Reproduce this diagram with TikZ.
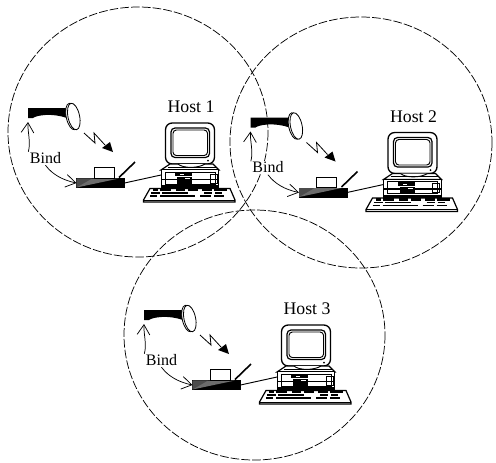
\documentclass[tikz,border=0pt]{standalone}
\usepackage{fontspec}
\setmainfont{Liberation Serif}
\usetikzlibrary{arrows.meta}
\tikzset{
  x=0.75pt,y=-0.75pt,
  zone/.style={line width=0.55pt,dash pattern=on 6.5pt off 1.6pt},
  hostlabel/.style={font=\fontsize{13.3pt}{15pt}\selectfont,inner sep=0pt},
  bindlabel/.style={font=\fontsize{12pt}{14pt}\selectfont,inner sep=1pt,fill=white},
  bindarrow/.style={line width=0.55pt,-{Straight Barb[length=7.5pt,width=9.5pt,line width=0.55pt]}},
  faxbody/.style={fill=black,draw=black,line width=0.5pt,minimum width=36pt,minimum height=7pt,inner sep=0pt,outer sep=0pt},
  casebody/.style={fill=white,draw=black,line width=0.9pt,minimum width=43pt,minimum height=14pt,inner sep=0pt,outer sep=0pt},
  outline/.style={draw=black,fill=white,line width=0.8pt},
  unit/.pic={
    % handset
    \fill (28,108) -- (67,108) -- (67,118) .. controls (60,115.5) and (52,114.5) .. (45,115)
       .. controls (39,115.5) and (35,116.5) .. (33,118) -- (28,118) -- cycle;
    \coordinate (-hs) at (28,122);
    % dish
    \draw[outline,line width=0.6pt] (72,116.5) ellipse [x radius=5.8,y radius=13.5,rotate=12];
    \draw[outline,line width=0.6pt] (73.8,116.5) ellipse [x radius=5.8,y radius=13.5,rotate=12];
    % signal
    \draw[line width=0.6pt] (84,133) -- (95,143) -- (94,133) -- (105,145);
    \fill (113,152) -- (102,148) -- (110,142) -- cycle;
    % fax
    \node[faxbody] (-fax) at (100.5,183) {};
    \fill[gray!85!black] (76.5,178.5) -- (119,178.5) -- (76.5,187.5) -- cycle;
    \fill[gray!60!black] (76.5,178.5) -- (92,178.5) -- (76.5,187.5) -- cycle;
    \draw[black,fill=white,line width=0.6pt] (94,167.5) rectangle (114,178);
    \draw[line width=1.2pt] (119,177.5) -- (135,162);
    % computer: monitor
    \draw[outline,rounded corners=5pt,line width=1pt] (165.5,123) rectangle (214.5,164);
    \draw[outline,rounded corners=3pt,line width=0.9pt] (171,128) rectangle (209.5,157.5);
    \draw[outline,rounded corners=2.5pt,line width=0.7pt] (173,130) rectangle (207.5,155.5);
    \fill (208,160.5) circle (1);
    % stand and case top
    \draw[outline,line width=0.9pt] (161,170) -- (170,164) -- (213,164) -- (219,170) -- cycle;
    \draw[outline,line width=0.7pt] (178,164) .. controls (183,168.5) and (198,168.5) .. (205,164);
    \draw[line width=0.5pt] (168,167) -- (216,167);
    \node[casebody] (-case) at (190,179) {};
    \coordinate (-port) at (161,175);
    % case front
    \fill (161,178.5) rectangle (219,180);
    \fill (161,185) rectangle (219,188.5);
    \draw[line width=0.5pt] (165,172) rectangle (215,184);
    \fill (175,172.5) rectangle (192,176);
    \fill (177,177) rectangle (192,184);
    \fill[white] (180,174) rectangle (184,175);
    \fill[white] (185,178) rectangle (190,179);
    \draw[line width=0.5pt] (210,174) rectangle (217,183);
    % keyboard
    \draw[outline,line width=0.9pt] (150,188.5) -- (230,188.5) -- (235,200) -- (235,202) -- (143.5,202) -- (143.5,200) -- cycle;
    \draw[line width=0.5pt] (143.5,200) -- (235,200);
    \draw[line width=1.6pt] (153,190) -- (158,190) (160,190) -- (171,190) (176,190) -- (185,190) (188,190) -- (198,190) (202,190) -- (212,190) (214,190) -- (227,190);
    \draw[line width=1.1pt] (151,193) -- (160,193) (162,193) -- (188,193) (204,193) -- (212,193) (215,193) -- (222,193);
    \draw[line width=1.1pt] (150,196) -- (157,196) (160,196) -- (195,196) (200,196) -- (211,196) (214,196) -- (224,196);
    % labels
    \node[bindlabel] (-bind) at (45.5,158) {Bind};
    \draw[line width=0.7pt] (-fax.east) -- (-port);
    \draw[bindarrow] (-bind.160) .. controls (31,142) and (27.5,132) .. (-hs);
    \draw[bindarrow] (-bind.south) .. controls (52,174) and (62,180) .. (-fax.west);
  }
}
\begin{document}
\begin{tikzpicture}
  \useasboundingbox (0,0) rectangle (496,462);
  \fill[white] (0,0) rectangle (496,462);
  \draw[zone] (138,132) ellipse [x radius=130,y radius=125];
  \draw[zone] (361,142.5) ellipse [x radius=131,y radius=125.5];
  \draw[zone] (254.5,335) ellipse [x radius=130.5,y radius=125];
  \pic (g1) at (0,0) {unit};
  \pic (g2) at (222.5,9.5) {unit};
  \pic (g3) at (116,202) {unit};
  \node[hostlabel] (h1) at (191,107) {Host 1};
  \node[hostlabel] (h2) at (413.5,117) {Host 2};
  \node[hostlabel] (h3) at (307,309) {Host 3};
\end{tikzpicture}
\end{document}
